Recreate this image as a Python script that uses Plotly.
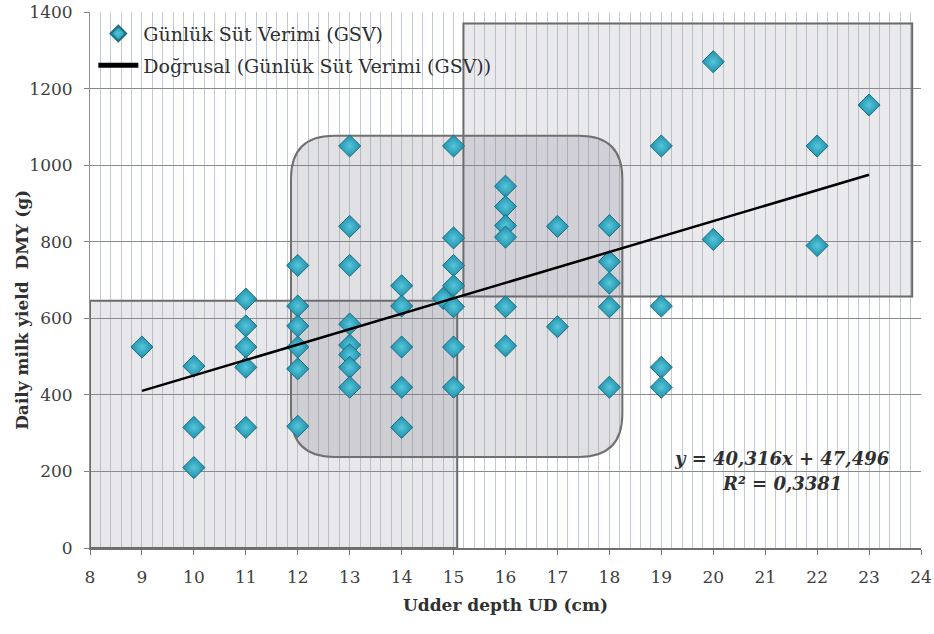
import plotly.graph_objects as go

# ---- data ----
ud_cm = [9,
         10, 10, 10,
         11, 11, 11, 11, 11,
         12, 12, 12, 12, 12, 12,
         13, 13, 13, 13, 13, 13, 13, 13,
         14, 14, 14, 14, 14,
         14.8,
         15, 15, 15, 15, 15, 15, 15,
         16, 16, 16, 16, 16, 16,
         17, 17,
         18, 18, 18, 18, 18,
         19, 19, 19, 19,
         20, 20,
         22, 22,
         23]
dmy_g = [525,
         475, 315, 210,
         650, 580, 525, 472, 315,
         738, 632, 580, 525, 468, 318,
         1050, 840, 738, 585, 530, 505, 472, 420,
         685, 632, 525, 420, 315,
         652,
         1050, 810, 738, 685, 630, 525, 420,
         945, 892, 842, 812, 630, 528,
         840, 578,
         842, 748, 692, 630, 420,
         1050, 632, 472, 420,
         1270, 806,
         1050, 790,
         1157]

slope, intercept, r2 = 40.316, 47.496, 0.3381
x_ticks = list(range(8, 25))
y_ticks = list(range(0, 1401, 200))

series_name = "Günlük Süt Verimi (GSV)"
trend_name = "Doğrusal (Günlük Süt Verimi (GSV))"
x_title = "Udder depth UD (cm)"
y_title = "Daily milk yield  DMY (g)"
eq_text = f"y = {str(slope).replace('.', ',')}x + {str(intercept).replace('.', ',')}"
r2_text = f"R² = {str(r2).replace('.', ',')}"

# highlighted regions (data units)
box_low = dict(x0=8, x1=15.07, y0=0, y1=646)
box_mid = dict(x0=11.87, x1=18.25, y0=238, y1=1077, rx=0.83, ry=112)
box_high = dict(x0=15.19, x1=23.83, y0=657, y1=1370)

FONT = "DejaVu Serif, Liberation Serif, serif"

x_line = [min(ud_cm), max(ud_cm)]
y_line = [slope * v + intercept for v in x_line]

fig = go.Figure()
fig.add_trace(go.Scatter(
    x=ud_cm, y=dmy_g, mode="markers", name=series_name, legendgroup="a",
    marker=dict(symbol="diamond", size=17, color="#1f8ea8",
                gradient=dict(type="radial", color="#55c6dc"),
                line=dict(color="#1b6f85", width=1)),
))
fig.add_trace(go.Scatter(
    x=x_line, y=y_line, mode="lines", name=trend_name, legendgroup="b",
    line=dict(color="black", width=2.5),
))

b = box_mid
path = (f"M {b['x0']+b['rx']},{b['y0']} "
        f"L {b['x1']-b['rx']},{b['y0']} "
        f"Q {b['x1']},{b['y0']} {b['x1']},{b['y0']+b['ry']} "
        f"L {b['x1']},{b['y1']-b['ry']} "
        f"Q {b['x1']},{b['y1']} {b['x1']-b['rx']},{b['y1']} "
        f"L {b['x0']+b['rx']},{b['y1']} "
        f"Q {b['x0']},{b['y1']} {b['x0']},{b['y1']-b['ry']} "
        f"L {b['x0']},{b['y0']+b['ry']} "
        f"Q {b['x0']},{b['y0']} {b['x0']+b['rx']},{b['y0']} Z")

shapes = [
    dict(type="rect", xref="x", yref="y", layer="between",
         x0=box_low["x0"], x1=box_low["x1"], y0=box_low["y0"], y1=box_low["y1"],
         fillcolor="rgba(140,140,150,0.2)", line=dict(color="#6a6a6a", width=2)),
    dict(type="rect", xref="x", yref="y", layer="between",
         x0=box_high["x0"], x1=box_high["x1"], y0=box_high["y0"], y1=box_high["y1"],
         fillcolor="rgba(150,150,165,0.2)", line=dict(color="#6a6a6a", width=2)),
    dict(type="path", xref="x", yref="y", layer="between", path=path,
         fillcolor="rgba(120,120,130,0.22)", line=dict(color="#707070", width=2)),
]

fig.update_layout(
    width=934, height=634,
    margin=dict(l=90, r=13, t=12, b=86, autoexpand=False),
    paper_bgcolor="white", plot_bgcolor="white",
    font=dict(family=FONT, size=17, color="#404040"),
    shapes=shapes,
    showlegend=True,
    legend=dict(x=0.004, y=0.995, xanchor="left", yanchor="top", itemwidth=40,
                bgcolor="rgba(255,255,255,0)", font=dict(family=FONT, size=19, color="#303030"),
                tracegroupgap=4, itemsizing="constant"),
    annotations=[
        dict(x=21.32, y=(548 - 459) / 0.3826, xref="x", yref="y", showarrow=False,
             text=f"<b><i>{eq_text}</i></b>",
             font=dict(family=FONT, size=18, color="#303030"), xanchor="center", yanchor="middle"),
        dict(x=21.32, y=(548 - 484) / 0.3826, xref="x", yref="y", showarrow=False,
             text=f"<b><i>{r2_text}</i></b>",
             font=dict(family=FONT, size=18, color="#303030"), xanchor="center", yanchor="middle"),
        dict(x=0.5, y=-0.106, xref="paper", yref="paper", showarrow=False,
             text=f"<b>{x_title}</b>", font=dict(family=FONT, size=17, color="#303030"),
             xanchor="center", yanchor="middle"),
        dict(x=-0.082, y=0.444, xref="paper", yref="paper", showarrow=False, textangle=-90,
             text=f"<b>{y_title}</b>", font=dict(family=FONT, size=17, color="#303030"),
             xanchor="center", yanchor="middle"),
    ],
)
fig.update_xaxes(
    range=[8, 24], tickvals=x_ticks, ticks="outside", ticklen=5, tickcolor="#707070",
    showline=True, linecolor="#707070", linewidth=2, automargin=False,
    ticklabelstandoff=8, ticklabeloverflow="allow",
    showgrid=True, gridcolor="#c3cad6", gridwidth=1,
    minor=dict(dtick=0.2, showgrid=True, gridcolor="#c3cad6", gridwidth=1),
    tickfont=dict(family=FONT, size=17, color="#404040"),
    zeroline=False,
)
fig.update_yaxes(
    range=[0, 1400], tickvals=y_ticks, ticks="outside", ticklen=5, tickcolor="#808080",
    showline=True, linecolor="#909090", linewidth=1, automargin=False,
    ticklabelstandoff=8, ticklabeloverflow="allow",
    showgrid=True, gridcolor="#8a8a8a", gridwidth=1.2,
    tickfont=dict(family=FONT, size=17, color="#404040"),
    zeroline=False,
)

# remove the browser's default 8px page margin so the figure fills the window
fig.write_html("out.html", config={"displayModeBar": False},
               post_script="document.body.style.margin='0';document.body.style.overflow='hidden';")
